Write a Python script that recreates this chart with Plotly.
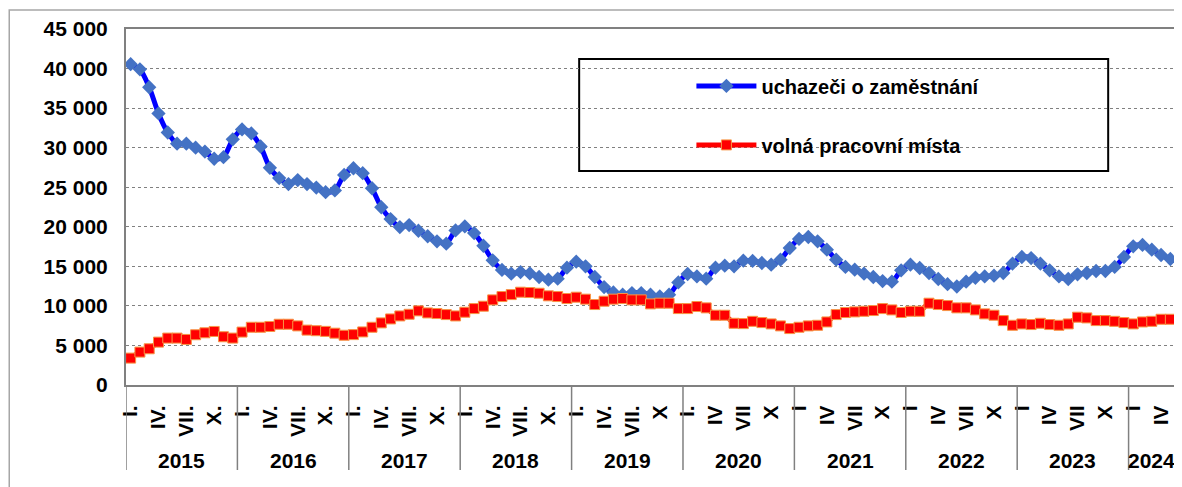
import plotly.graph_objects as go

years = [2015, 2016, 2017, 2018, 2019, 2020, 2021, 2022, 2023, 2024]

uchazeci = [
    40550, 39900, 37640, 34330, 31920, 30500, 30500, 30000, 29500, 28600, 28800, 31050,
    32300, 31800, 30150, 27450, 26150, 25400, 25900, 25400, 24950, 24370, 24600, 26560,
    27400, 26770, 24870, 22470, 20970, 19960, 20210, 19500, 18800, 18160, 17870, 19540,
    20040, 19200, 17600, 15760, 14540, 14070, 14280, 14100, 13650, 13310, 13440, 14830,
    15590, 15000, 13650, 12380, 11690, 11410, 11620, 11620, 11410, 11200, 11410, 12970,
    14030, 13730, 13440, 14830, 15080, 15000, 15720, 15680, 15420, 15210, 15840, 17320,
    18460, 18710, 18160, 17110, 15840, 14920, 14580, 14070, 13650, 13140, 13060, 14490,
    15210, 14790, 14160, 13400, 12740, 12450, 13060, 13560, 13730, 13820, 14160, 15340,
    16180, 16050, 15340, 14490, 13730, 13400, 13990, 14160, 14410, 14410, 14920, 16180,
    17530, 17700, 17110, 16430, 15930,
]

volna_mista = [
    3400, 4160, 4580, 5420, 5930, 5930, 5760, 6350, 6600, 6770, 6100, 5930,
    6690, 7300, 7300, 7400, 7680, 7680, 7470, 6940, 6860, 6780, 6550, 6290,
    6370, 6710, 7300, 7850, 8350, 8730, 8940, 9370, 9110, 9030, 8900, 8730,
    9200, 9660, 9960, 10760, 11180, 11430, 11730, 11690, 11600, 11270, 11180, 10930,
    11100, 10850, 10170, 10590, 10850, 10930, 10760, 10760, 10250, 10340, 10340, 9660,
    9660, 9920, 9750, 8820, 8820, 7800, 7760, 8050, 7890, 7720, 7470, 7130,
    7300, 7470, 7550, 7970, 8900, 9160, 9240, 9320, 9410, 9660, 9490, 9160,
    9320, 9320, 10340, 10170, 10040, 9750, 9750, 9490, 8990, 8820, 8140, 7550,
    7720, 7640, 7800, 7640, 7550, 7720, 8570, 8480, 8140, 8140, 8050, 7890,
    7720, 7970, 8050, 8310, 8310,
]

month_labels = {
    2015: ["I.", "IV.", "VII.", "X."],
    2016: ["I.", "IV.", "VII.", "X."],
    2017: ["I.", "IV.", "VII.", "X."],
    2018: ["I.", "IV.", "VII.", "X."],
    2019: ["I.", "IV.", "VII.", "X"],
    2020: ["I.", "IV", "VII", "X"],
    2021: ["I", "IV", "VII", "X"],
    2022: ["I", "IV", "VII", "X"],
    2023: ["I", "IV", "VII", "X"],
    2024: ["I", "IV"],
}

y_ticks = [0, 5000, 10000, 15000, 20000, 25000, 30000, 35000, 40000, 45000]
y_ticktext = ["0", "5 000", "10 000", "15 000", "20 000", "25 000", "30 000", "35 000", "40 000", "45 000"]

n = len(uchazeci)
x = list(range(n))

FONT = "Liberation Sans, Arial, sans-serif"
FS = 21

fig = go.Figure()
fig.add_trace(go.Scatter(
    x=x, y=uchazeci, name="uchazeči o zaměstnání", mode="lines+markers",
    line=dict(color="#0000FF", width=5, shape="spline", smoothing=0.8),
    marker=dict(symbol="diamond", size=11, color="#4472C4", line=dict(width=0)),
    legendgroup="a",
))
fig.add_trace(go.Scatter(
    x=x, y=volna_mista, name="volná pracovní místa", mode="lines+markers",
    line=dict(color="#FF0000", width=5, shape="spline", smoothing=0.8),
    marker=dict(symbol="square", size=10, color="#FF0000", line=dict(width=1, color="#F79646")),
    legendgroup="b",
))

tickvals, ticktext = [], []
for yi, yr in enumerate(years):
    for mi, lab in enumerate(month_labels[yr]):
        tickvals.append(yi * 12 + mi * 3)
        ticktext.append(lab)

shapes = []
bounds = [yi * 12 - 0.5 for yi in range(len(years))] + [n - 0.5]
for b in bounds:
    shapes.append(dict(type="line", xref="x", yref="paper", x0=b, x1=b, y0=0, y1=-0.2388,
                       line=dict(color="#808080", width=1.5)))
shapes.append(dict(type="rect", xref="paper", yref="paper", x0=-0.1113, x1=1.02, y0=-0.4, y1=1.0534,
                   line=dict(color="#A6A6A6", width=1.5), fillcolor="rgba(0,0,0,0)", layer="below"))
shapes.append(dict(type="rect", xref="paper", yref="paper", x0=0.432, x1=0.9363, y0=0.601, y1=0.9157,
                   line=dict(color="#000000", width=2), fillcolor="white", layer="below"))

annotations = []
for yi, yr in enumerate(years):
    start = yi * 12 - 0.5
    end = min(start + 12, n - 0.5)
    annotations.append(dict(x=(start + end) / 2, y=-0.2107, xref="x", yref="paper",
                            text=str(yr), showarrow=False, yanchor="middle", xanchor="center",
                            font=dict(family=FONT, size=FS, color="black", weight="bold")))

fig.update_layout(
    width=1174, height=479,
    margin=dict(l=118, r=5, t=21, b=102),
    paper_bgcolor="white", plot_bgcolor="white",
    font=dict(family=FONT, size=FS, color="black", weight="bold"),
    showlegend=True,
    legend=dict(x=0.539, y=0.895, xanchor="left", yanchor="top",
                bgcolor="rgba(0,0,0,0)", borderwidth=0,
                font=dict(family=FONT, size=20, color="black", weight="bold"),
                tracegroupgap=30, itemwidth=60, traceorder="grouped"),
    shapes=shapes,
    annotations=annotations,
    xaxis=dict(range=[-0.5, n - 0.5], tickmode="array", tickvals=tickvals, ticktext=ticktext,
               tickangle=-90, showgrid=False, zeroline=False,
               showline=True, linecolor="#808080", linewidth=2, mirror=True,
               ticks="", ticklabelstandoff=10,
               tickfont=dict(family=FONT, size=FS, color="black", weight="bold")),
    yaxis=dict(range=[0, 45000], tickmode="array", tickvals=y_ticks, ticktext=y_ticktext,
               showgrid=True, gridcolor="#808080", gridwidth=1, griddash="dot",
               zeroline=False, showline=True, linecolor="#808080", linewidth=2, mirror=True,
               ticks="", ticklabelstandoff=12,
               tickfont=dict(family=FONT, size=FS, color="black", weight="bold")),
)

fig.write_html("out.html")
